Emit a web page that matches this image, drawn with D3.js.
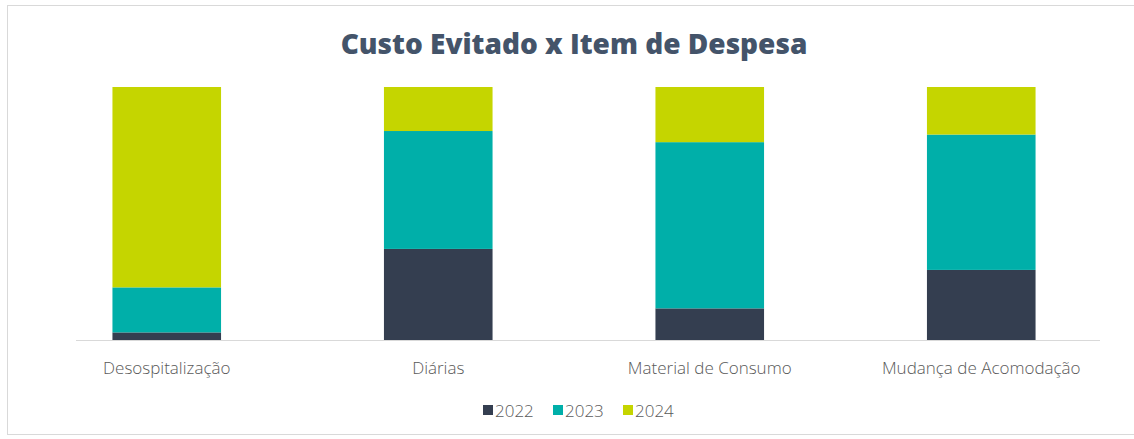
<!DOCTYPE html>
<html>
<head>
<meta charset="utf-8">
<script src="https://cdn.jsdelivr.net/npm/d3@7"></script>
<style>
  body { margin: 0; background: #fff; }
  svg { display: block; }
</style>
</head>
<body>
<svg id="chart" width="1134" height="439"></svg>
<script>
// data (share of each year, %)
const categories = ["Desospitalização", "Diárias", "Material de Consumo", "Mudança de Acomodação"]
const years = ["2022", "2023", "2024"]
const values2022 = [3.0, 36.0, 12.5, 27.7]
const values2023 = [17.8, 46.6, 65.7, 53.5]
const values2024 = [79.2, 17.4, 21.8, 18.8]
const colors = ["#343e50", "#00afa9", "#c5d500"]

const svg = d3.select("#chart")
const width = 1134
const plot = { left: 31, right: 1117, top: 87, bottom: 340 }

// frame around the chart
svg.append("rect")
  .attr("x", 7.5)
  .attr("y", 5.5)
  .attr("width", width + 10)
  .attr("height", 429)
  .attr("fill", "none")
  .attr("stroke", "#d9d9d9")

svg.append("text")
  .attr("x", 574)
  .attr("y", 54)
  .attr("text-anchor", "middle")
  .attr("font-family", "'Open Sans', sans-serif")
  .attr("font-weight", 800)
  .attr("font-size", 28)
  .attr("fill", "#44546a")
  .text("Custo Evitado x Item de Despesa")

const rows = categories.map((c, i) => ({
  category: c,
  "2022": values2022[i],
  "2023": values2023[i],
  "2024": values2024[i]
}))

const stacked = d3.stack().keys(years).offset(d3.stackOffsetExpand)(rows)

const x = d3.scaleBand()
  .domain(categories)
  .range([plot.left, plot.right])
  .paddingInner(0.6)
  .paddingOuter(0.3)

const y = d3.scaleLinear()
  .domain([0, 1])
  .range([plot.bottom, plot.top])

svg.append("g")
  .selectAll("g")
  .data(stacked)
  .join("g")
  .attr("fill", (d, i) => colors[i])
  .selectAll("rect")
  .data(d => d)
  .join("rect")
  .attr("x", d => x(d.data.category))
  .attr("y", d => y(d[1]))
  .attr("width", x.bandwidth())
  .attr("height", d => y(d[0]) - y(d[1]))

const axis = svg.append("g")
  .attr("transform", `translate(0, ${plot.bottom})`)
  .call(d3.axisBottom(x).tickSize(0).tickPadding(22))

axis.select(".domain")
  .attr("stroke", "#d9d9d9")
  .attr("d", "M76,0.5H1100")

axis.selectAll("text")
  .attr("font-family", "'Open Sans', sans-serif")
  .attr("font-weight", 300)
  .attr("font-size", 17)
  .attr("fill", "#595959")

// legend
const legend = svg.append("g")
  .attr("transform", "translate(483, 410)")

const item = legend.selectAll("g")
  .data(years)
  .join("g")
  .attr("transform", (d, i) => `translate(${i * 70}, 0)`)

item.append("rect")
  .attr("x", 0)
  .attr("y", -5)
  .attr("width", 10)
  .attr("height", 10)
  .attr("fill", (d, i) => colors[i])

item.append("text")
  .attr("x", 12)
  .attr("y", 0)
  .attr("dominant-baseline", "central")
  .attr("font-family", "'Open Sans', sans-serif")
  .attr("font-weight", 300)
  .attr("font-size", 17)
  .attr("fill", "#595959")
  .text(d => d)
</script>
</body>
</html>
